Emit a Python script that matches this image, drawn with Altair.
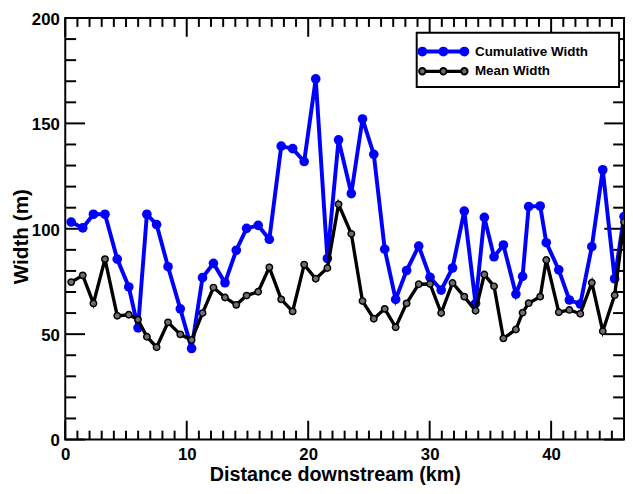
import altair as alt
import pandas as pd

# ---------------- data ----------------
x_km = [0.49, 1.44, 2.32, 3.27, 4.28, 5.23, 5.99, 6.72, 7.52, 8.46, 9.47, 10.4,
        11.3, 12.2, 13.15, 14.08, 14.93, 15.88, 16.8, 17.78, 18.72, 19.67, 20.62,
        21.58, 22.5, 23.55, 24.47, 25.4, 26.3, 27.2, 28.1, 29.1, 30.03, 30.95,
        31.88, 32.85, 33.78, 34.5, 35.3, 36.07, 37.1, 37.65, 38.15, 39.1, 39.6,
        40.63, 41.5, 42.4, 43.35, 44.25, 45.23, 46.0]
cumulative_width = [103.2, 100.4, 106.9, 106.9, 85.6, 72.4, 53.0, 106.9, 102, 82,
                    62, 43.2, 76.8, 83.6, 74.4, 89.8, 100.2, 101.6, 95, 139.2, 138,
                    131.9, 171.1, 85.9, 142.2, 116.7, 152.1, 135.3, 90.3, 66.5,
                    80.2, 91.8, 77, 70.9, 81.4, 108.4, 64.6, 105.4, 86.7, 92.3, 69,
                    77.4, 110.5, 110.8, 93.4, 80.5, 66.2, 64.3, 91.5, 128, 76.3,
                    105.8]
mean_width = [74.7, 77.9, 64.6, 85.6, 58.7, 59.2, 56.9, 48.8, 43.8, 55.6, 49.9,
              47.2, 60, 72.1, 67.4, 63.9, 68.3, 70.1, 81.7, 66.5, 60.8, 83, 76.3,
              81.4, 111.6, 97.6, 65.7, 57.3, 62, 53.3, 64.6, 73.7, 73.8, 60, 74.3,
              67.8, 61.1, 78.3, 72.7, 48, 52.2, 60.2, 64.7, 67.8, 85.2, 60.4, 61.5,
              59.7, 74.4, 51.4, 68.5, 103.2]
series_names = ["Cumulative Width", "Mean Width"]
x_major_ticks = [0, 10, 20, 30, 40]
x_minor_ticks = [v for v in range(1, 46) if v % 10 != 0]
y_major_ticks = [0, 50, 100, 150, 200]
y_minor_ticks = [v for v in range(10, 200, 10) if v % 50 != 0]
x_title = "Distance downstream (km)"
y_title = "Width (m)"

X_MIN, X_MAX = 0, 46
Y_MIN, Y_MAX = 0, 200

df = pd.DataFrame({
    "x": x_km + x_km,
    "y": cumulative_width + mean_width,
    "series": [series_names[0]] * len(x_km) + [series_names[1]] * len(x_km),
})

FONT = "Liberation Sans"
BLUE = "#0000ff"
GRAY = "#6e6e6e"

xs = alt.Scale(domain=[X_MIN, X_MAX], nice=False, zero=False)
ys = alt.Scale(domain=[Y_MIN, Y_MAX], nice=False)


# ---------------- legend symbol paths ----------------
def circle(cx, r):
    return (f"M{cx - r:.3f},0A{r:.3f},{r:.3f} 0 1,0 {cx + r:.3f},0"
            f"A{r:.3f},{r:.3f} 0 1,0 {cx - r:.3f},0Z")


def legend_path(r, half):
    centers = [-2.13, 0.0, 2.13]
    parts = []
    for a, b in zip(centers[:-1], centers[1:]):
        for dy in (-half, 0.0, half):
            parts.append(f"M{a + r:.3f},{dy:.3f}L{b - r:.3f},{dy:.3f}")
    parts += [circle(c, r) for c in centers]
    return "".join(parts)


blue_path = legend_path(0.4, 0.1)
black_path = legend_path(0.325, 0.07)

legend = alt.Legend(
    title=" ", titleOrient="right", titlePadding=23, titleFontSize=13,
    orient="none", legendX=356, legendY=15,
    padding=8, rowPadding=0,
    symbolSize=400, symbolStrokeWidth=2, symbolOffset=8, symbolOpacity=1,
    labelOffset=21, labelFont=FONT, labelFontSize=13.6, labelFontWeight="bold",
    labelColor="black",
    strokeColor="black", fillColor="white",
)

# ---------------- axes: labels + titles (ticks drawn as rules) ----------------
common_axis = dict(
    ticks=False, domain=False, grid=False, labelOverlap=False, labelFlush=False,
    labelFont=FONT, labelFontSize=17, labelFontWeight="bold", labelColor="black",
    titleFont=FONT, titleFontWeight="bold", titleColor="black",
)
bottom_axis = alt.Axis(orient="bottom", values=x_major_ticks, title=x_title,
                       labelPadding=7, titlePadding=3, titleX=273, titleFontSize=20,
                       **common_axis)
left_axis = alt.Axis(orient="left", values=y_major_ticks, title=y_title,
                     labelPadding=6, labelOffset=1.5, titlePadding=0, titleY=221,
                     titleFontSize=21, **common_axis)


def X(field, axis=None):
    return alt.X(field, scale=xs, axis=axis)


def Y(field, axis=None):
    return alt.Y(field, scale=ys, axis=axis)


base = alt.Chart(df)
blue = base.transform_filter(alt.datum.series == series_names[0])
black = base.transform_filter(alt.datum.series == series_names[1])


def x_ticks(values, edge, offset):
    d = pd.DataFrame({"v": values, "e": [edge] * len(values)})
    return alt.Chart(d).mark_rule(
        color="black", strokeWidth=2, y2Offset=offset).encode(
        x=X("v:Q"), y=Y("e:Q"), y2=alt.Y2("e:Q"),
    )


def y_ticks(values, edge, offset):
    d = pd.DataFrame({"v": values, "e": [edge] * len(values)})
    return alt.Chart(d).mark_rule(
        color="black", strokeWidth=2, x2Offset=offset).encode(
        y=Y("v:Q"), x=X("e:Q"), x2=alt.X2("e:Q"),
    )


tick_layers = [
    x_ticks(x_major_ticks, Y_MIN, -19), x_ticks(x_minor_ticks, Y_MIN, -9),
    x_ticks(x_major_ticks, Y_MAX, 19), x_ticks(x_minor_ticks, Y_MAX, 9),
    y_ticks(y_major_ticks, X_MIN, 20), y_ticks(y_minor_ticks, X_MIN, 11),
    y_ticks(y_major_ticks, X_MAX, -20), y_ticks(y_minor_ticks, X_MAX, -11),
]

legend_layer = base.transform_filter("false").mark_point(
    filled=True, opacity=1).encode(
    x=X("x:Q"), y=Y("y:Q"),
    fill=alt.Fill("series:N", scale=alt.Scale(domain=series_names, range=[BLUE, GRAY]),
                  legend=legend),
    stroke=alt.Stroke("series:N", scale=alt.Scale(domain=series_names, range=[BLUE, "#000000"]),
                      legend=legend),
    shape=alt.Shape("series:N", scale=alt.Scale(domain=series_names, range=[blue_path, black_path]),
                    legend=legend),
)

line_blue = blue.mark_line(strokeWidth=4, color=BLUE, clip=True).encode(
    x=X("x:Q", bottom_axis), y=Y("y:Q", left_axis))
pts_blue = blue.mark_circle(size=95, color=BLUE, opacity=1, clip=True).encode(
    x=X("x:Q"), y=Y("y:Q"))
line_black = black.mark_line(strokeWidth=3.4, color="#000000", clip=True).encode(
    x=X("x:Q"), y=Y("y:Q"))
pts_black = black.mark_point(filled=True, fill=GRAY, stroke="black", strokeWidth=1.5,
                             size=42, opacity=1, clip=True).encode(
    x=X("x:Q"), y=Y("y:Q"))

chart = (
    alt.layer(*tick_layers, legend_layer, line_blue, pts_blue, line_black, pts_black)
    .resolve_axis(x="independent", y="independent")
    .properties(width=566, height=427, autosize="none",
                padding={"left": 58, "top": 7, "right": 1, "bottom": 50},
                background="white")
    .configure_view(stroke="black", strokeWidth=2)
    .configure_legend(strokeWidth=2)
)

chart.save("out.html", embed_options={"renderer": "svg", "actions": False})
